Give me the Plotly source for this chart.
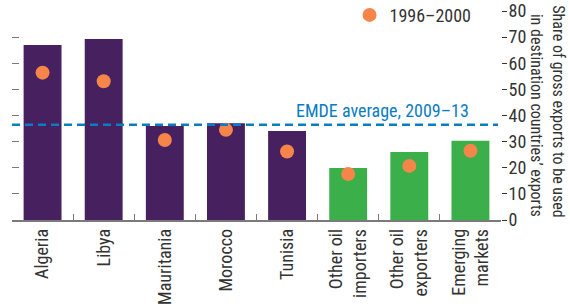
import plotly.graph_objects as go

categories = ["Algeria", "Libya", "Mauritania", "Morocco", "Tunisia",
              "Other oil<br>importers", "Other oil<br>exporters", "Emerging<br>markets"]
share_2009_13 = [67.0, 69.3, 36.0, 37.0, 34.1, 19.9, 26.0, 30.3]
share_1996_2000 = [56.4, 53.1, 30.6, 34.5, 26.2, 17.6, 20.7, 26.5]
emde_average = 36.5
y_ticks = [0, 10, 20, 30, 40, 50, 60, 70, 80]

PURPLE = "#47215F"
GREEN = "#3BAF4A"
ORANGE = "#F58549"
BLUE = "#0A7DC2"
TXT = "#333333"
FONT = "Liberation Sans Narrow, Arial Narrow, Roboto Condensed, sans-serif"

bar_colors = [PURPLE] * 5 + [GREEN] * 3

fig = go.Figure()
fig.add_trace(go.Bar(x=categories, y=share_2009_13, marker_color=bar_colors,
                     marker_line_width=0, width=0.62, showlegend=False))
fig.add_trace(go.Scatter(x=categories, y=share_1996_2000, mode="markers",
                         name="1996–2000",
                         marker=dict(color=ORANGE, size=14, line_width=0)))

fig.add_shape(type="line", xref="paper", yref="y", x0=0, x1=0.994,
              y0=emde_average, y1=emde_average,
              line=dict(color=BLUE, width=2.5, dash="8px,5px"))
fig.add_annotation(xref="paper", yref="y", x=0.939, y=42, xanchor="right",
                   yanchor="middle", showarrow=False,
                   text="EMDE average, 2009–13",
                   font=dict(family=FONT, size=18, color=BLUE))
fig.add_annotation(xref="paper", yref="paper", x=1.117, y=0.519, xanchor="center",
                   yanchor="middle", showarrow=False, textangle=90,
                   text="Share of gross exports to be used",
                   font=dict(family=FONT, size=16, color=TXT))
fig.add_annotation(xref="paper", yref="paper", x=1.074, y=0.502, xanchor="center",
                   yanchor="middle", showarrow=False, textangle=90,
                   text="in destination countries’ exports",
                   font=dict(family=FONT, size=16, color=TXT))

fig.update_layout(
    width=570, height=304,
    margin=dict(l=12, r=69, t=11, b=84, autoexpand=False),
    plot_bgcolor="white", paper_bgcolor="white",
    font=dict(family=FONT, size=18, color=TXT),
    bargap=0.38,
    legend=dict(x=0.950, y=0.98, xanchor="right", yanchor="middle",
                bgcolor="rgba(0,0,0,0)", font=dict(size=18),
                itemwidth=30),
    xaxis=dict(showline=True, linecolor="#7a7a7a", linewidth=1.5,
               ticks="inside", tickson="boundaries", ticklen=6,
               tickcolor="#7a7a7a", tickwidth=1.2, tickangle=-90,
               showgrid=False, range=[-0.5, 7.5], automargin=False,
               tickfont=dict(size=18, color=TXT)),
    yaxis=dict(range=[0, 80], tickvals=y_ticks, side="left",
               showticklabels=False, ticks="inside", ticklen=7,
               tickcolor="#7a7a7a", tickwidth=1.2, automargin=False,
               showgrid=False, zeroline=False, showline=False),
    yaxis2=dict(range=[0, 80], tickvals=y_ticks, side="right",
                overlaying="y", matches="y", ticks="outside", ticklen=5,
                tickcolor=TXT, tickwidth=1, showgrid=False, zeroline=False,
                showline=False, automargin=False, ticklabelstandoff=-2,
                tickfont=dict(size=18, color=TXT)),
)
fig.add_trace(go.Scatter(x=[categories[0]], y=[None], yaxis="y2",
                         showlegend=False, hoverinfo="skip"))

fig.write_html("out.html", config={"displayModeBar": False},
               post_script="document.body.style.margin='0';document.body.style.overflow='hidden';")
